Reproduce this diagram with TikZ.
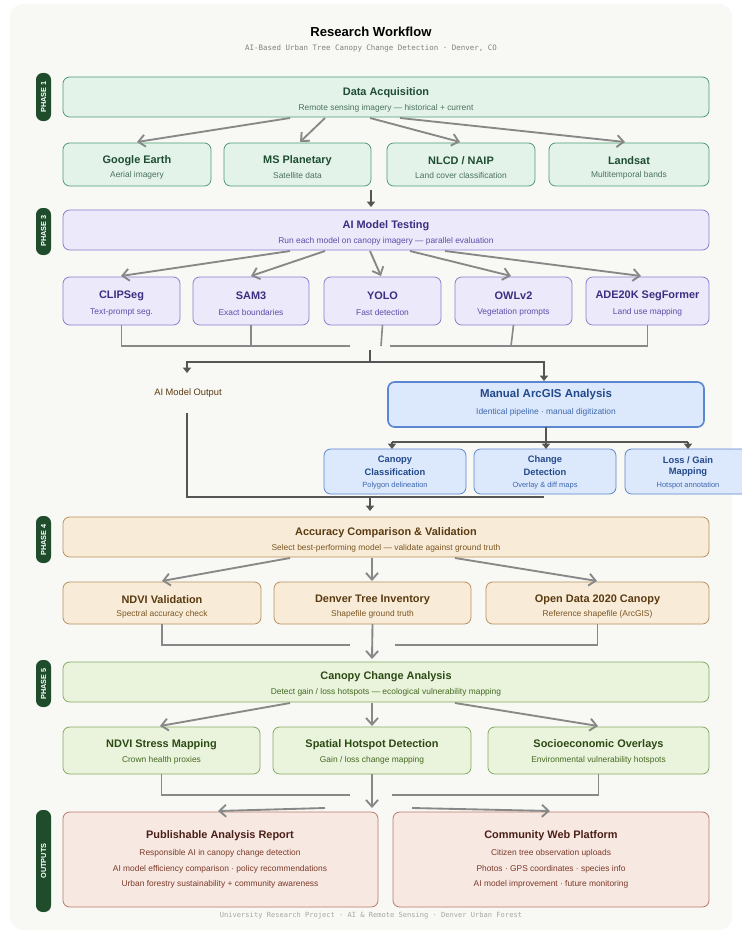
\documentclass[tikz,border=0pt]{standalone}
\usepackage{fontspec}
\setmainfont{Liberation Sans}
\setmonofont{DejaVu Sans Mono}
\usetikzlibrary{arrows.meta}
\definecolor{bg}{HTML}{F8F8F4}
\definecolor{pill}{HTML}{1F4D2C}
\definecolor{gF}{HTML}{E3F3EA}\definecolor{gD}{HTML}{4E9A74}\definecolor{gT}{HTML}{1E4D32}
\definecolor{pF}{HTML}{ECE9FB}\definecolor{pD}{HTML}{8A7CCB}\definecolor{pT}{HTML}{3A2F80}\definecolor{pS}{HTML}{5A4EA8}
\definecolor{bF}{HTML}{DCE8FB}\definecolor{bD}{HTML}{5B86D0}\definecolor{bT}{HTML}{234A8A}\definecolor{bS}{HTML}{3D68B0}
\definecolor{oF}{HTML}{F8ECD9}\definecolor{oD}{HTML}{B8905E}\definecolor{oT}{HTML}{5A3A10}\definecolor{oS}{HTML}{7A5520}
\definecolor{lF}{HTML}{EAF3DC}\definecolor{lD}{HTML}{84AA64}\definecolor{lT}{HTML}{2C4A14}\definecolor{lS}{HTML}{446A22}
\definecolor{rF}{HTML}{F8E8E2}\definecolor{rD}{HTML}{B87A6A}\definecolor{rT}{HTML}{4A2018}\definecolor{rS}{HTML}{7A3A28}
\definecolor{arr}{HTML}{888888}\definecolor{dk}{HTML}{555555}
\tikzset{
 bx/.style={draw, rounded corners=5pt, line width=0.6pt},
 ttl/.style={font=\bfseries\fontsize{8.2}{10}\selectfont},
 sub/.style={font=\fontsize{6.3}{7.5}\selectfont},
 ga/.style={draw=arr, line width=1.4pt, -{Straight Barb[length=5pt,width=9pt]}},
 gl/.style={draw=arr, line width=1.2pt},
 da/.style={draw=dk, line width=1.3pt, -{Triangle[length=4pt,width=6pt]}},
 dl/.style={draw=dk, line width=1.3pt},
 pil/.style={fill=pill, rounded corners=5pt},
 pt/.style={text=white, font=\bfseries\fontsize{5.5}{6}\selectfont, rotate=90},
}
\newcommand{\bxn}[7]{%
 \path[bx, fill=#6, draw=#7] (#2,#3) rectangle (#4,#5);
 \coordinate (#1) at ({(#2+#4)/2},{(#3+#5)/2});
 \coordinate (#1t) at ({(#2+#4)/2},#3);
 \coordinate (#1b) at ({(#2+#4)/2},#5);}
\begin{document}
\begin{tikzpicture}[x=0.75pt,y=-0.75pt]
\useasboundingbox (0,0) rectangle (742,949);
\fill[white] (0,0) rectangle (742,949);
\fill[bg, rounded corners=10pt] (10,4) rectangle (732,930);
\node[ttl, font=\bfseries\fontsize{9.8}{12}\selectfont] (title) at (371,32) {Research Workflow};
\node[font=\ttfamily\fontsize{5.6}{7}\selectfont, text=gray] (subt) at (371,48) {AI-Based Urban Tree Canopy Change Detection · Denver, CO};
% pills
\fill[pil] (36,73) rectangle (51,121); \node[pt] (p1) at (43.5,97) {PHASE 1};
\fill[pil] (36,208) rectangle (51,255); \node[pt] (p3) at (43.5,231) {PHASE 3};
\fill[pil] (36,516) rectangle (51,563); \node[pt] (p4) at (43.5,540) {PHASE 4};
\fill[pil] (36,660) rectangle (51,707); \node[pt] (p5) at (43.5,684) {PHASE 5};
\fill[pil] (36,810) rectangle (51,912); \node[pt] (po) at (43.5,861) {OUTPUTS};
% Phase 1
\bxn{da}{63}{77}{709}{117}{gF}{gD}
\node[ttl,text=gT] (daT) at (386,93) {Data Acquisition};
\node[sub,text=gT!80!white] (daS) at (386,108) {Remote sensing imagery — historical + current};
\foreach \n/\a/\b/\t/\s in {ge/63/211/{Google Earth}/{Aerial imagery}, ms/224/371/{MS Planetary}/{Satellite data}, nl/387/535/{NLCD / NAIP}/{Land cover classification}, ls/549/709/{Landsat}/{Multitemporal bands}}{
 \bxn{\n}{\a}{143}{\b}{186}{gF}{gD}
 \node[ttl,text=gT] (\n T) at ({(\a+\b)/2},161) {\t};
 \node[sub,text=gT!80!white] (\n S) at ({(\a+\b)/2},175) {\s};}
\coordinate (d1) at (290,118);\coordinate (d2) at (325,118);\coordinate (d3) at (370,118);\coordinate (d4) at (400,118);
\draw[ga] (d1) -- (137,142); \draw[ga] (d2) -- (300,142); \draw[ga] (d3) -- (460,142); \draw[ga] (d4) -- (625,142);
\coordinate (v1) at (371,190); \coordinate (v2) at (371,207);
\draw[da] (v1) -- (v2);
% Phase 3
\bxn{ai}{63}{210}{709}{250}{pF}{pD}
\node[ttl,text=pT] (aiT) at (386,226) {AI Model Testing};
\node[sub,text=pS] (aiS) at (386,241) {Run each model on canopy imagery — parallel evaluation};
\foreach \n/\a/\b/\t/\s in {m1/63/180/CLIPSeg/{Text-prompt seg.}, m2/193/309/SAM3/{Exact boundaries}, m3/324/441/YOLO/{Fast detection}, m4/455/572/OWLv2/{Vegetation prompts}, m5/586/709/{ADE20K SegFormer}/{Land use mapping}}{
 \bxn{\n}{\a}{277}{\b}{325}{pF}{pD}
 \node[ttl,text=pT] (\n T) at ({(\a+\b)/2},296) {\t};
 \node[sub,text=pS] (\n S) at ({(\a+\b)/2},312) {\s};}
\coordinate (a1) at (290,251);\coordinate (a2) at (325,251);\coordinate (a3) at (370,251);\coordinate (a4) at (410,251);\coordinate (a5) at (445,251);
\draw[ga] (a1) -- (121,276); \draw[ga] (a2) -- (251,276); \draw[ga] (a3) -- (381,276); \draw[ga] (a4) -- (511,276); \draw[ga] (a5) -- (641,276);
\draw[gl] (m1b) |- (350,346); \draw[gl] (m2b) -- (251,346);
\draw[gl] (m5b) |- (390,346); \draw[gl] (m4b) -- (511,346); \draw[gl] (m3b) -- (381,346);
\coordinate (j1) at (370,350);
\draw[dl] (j1) -- (370,362) -| (187,372);
\draw[da] (187,362) -- (187,373);
\draw[da] (370,362) -| (544,381);
\node[font=\fontsize{7}{8}\selectfont, text=oT] (out) at (188,393) {AI Model Output};
% ArcGIS
\bxn{ar}{388}{382}{704}{427}{bF}{bD}
\path[draw=bD, line width=1.2pt, rounded corners=5pt] (388,382) rectangle (704,427);
\node[ttl,text=bT, font=\bfseries\fontsize{8.6}{10}\selectfont] (arT) at (546,395) {Manual ArcGIS Analysis};
\node[sub,text=bS] (arS) at (546,412) {Identical pipeline · manual digitization};
\draw[dl] (arb) -- (546,442);
\draw[dl] (392,442) -- (688,442);
\foreach \x in {392,546,688}{\draw[da] (\x,442) -- (\x,449);}
\foreach \n/\a/\b/\t/\u/\s in {c1/324/466/Canopy/Classification/{Polygon delineation}, c2/474/616/Change/Detection/{Overlay \& diff maps}, c3/625/760/{Loss / Gain}/Mapping/{Hotspot annotation}}{
 \bxn{\n}{\a}{449}{\b}{494}{bF}{bD}
 \node[ttl,text=bT, font=\bfseries\fontsize{7}{8}\selectfont] (\n T) at ({min((\a+\b)/2,688)},460) {\t};
 \node[ttl,text=bT, font=\bfseries\fontsize{7}{8}\selectfont] (\n U) at ({min((\a+\b)/2,688)},472) {\u};
 \node[sub,text=bS, font=\fontsize{5.6}{7}\selectfont] (\n S) at ({min((\a+\b)/2,688)},486) {\s};}
\draw[dl] (187,413) |- (544,497);
\draw[da] (370,497) -- (370,511);
% Phase 4
\bxn{ac}{63}{517}{709}{557}{oF}{oD}
\node[ttl,text=oT] (acT) at (386,533) {Accuracy Comparison \& Validation};
\node[sub,text=oS] (acS) at (386,548) {Select best-performing model — validate against ground truth};
\foreach \n/\a/\b/\t/\s in {v1/63/261/{NDVI Validation}/{Spectral accuracy check}, v2/274/471/{Denver Tree Inventory}/{Shapefile ground truth}, v3/486/709/{Open Data 2020 Canopy}/{Reference shapefile (ArcGIS)}}{
 \bxn{\n}{\a}{582}{\b}{624}{oF}{oD}
 \node[ttl,text=oT] (\n T) at ({(\a+\b)/2},600) {\t};
 \node[sub,text=oS] (\n S) at ({(\a+\b)/2},614) {\s};}
\draw[ga] (290,558) -- (162,581); \draw[ga] (372,558) -- (372,581); \draw[ga] (455,558) -- (597,581);
\draw[gl] (v1b) |- (350,645); \draw[gl] (v3b) |- (395,645);
\draw[ga] (v2b) -- (372,659);
% Phase 5
\bxn{cc}{63}{662}{709}{702}{lF}{lD}
\node[ttl,text=lT] (ccT) at (386,677) {Canopy Change Analysis};
\node[sub,text=lS] (ccS) at (386,692) {Detect gain / loss hotspots — ecological vulnerability mapping};
\foreach \n/\a/\b/\t/\s in {s1/63/260/{NDVI Stress Mapping}/{Crown health proxies}, s2/273/471/{Spatial Hotspot Detection}/{Gain / loss change mapping}, s3/488/709/{Socioeconomic Overlays}/{Environmental vulnerability hotspots}}{
 \bxn{\n}{\a}{727}{\b}{774}{lF}{lD}
 \node[ttl,text=lT] (\n T) at ({(\a+\b)/2},745) {\t};
 \node[sub,text=lS] (\n S) at ({(\a+\b)/2},760) {\s};}
\draw[ga] (290,703) -- (160,726); \draw[ga] (372,703) -- (372,726); \draw[ga] (455,703) -- (598,726);
\draw[gl] (s1b) |- (350,795); \draw[gl] (s3b) |- (392,795);
\draw[ga] (s2b) -- (372,808);
% Outputs
\bxn{o1}{63}{812}{378}{907}{rF}{rD}
\bxn{o2}{393}{812}{709}{907}{rF}{rD}
\draw[ga] (325,808) -- (218,811); \draw[ga] (412,808) -- (550,811);
\node[ttl,text=rT] (o1T) at (220,836) {Publishable Analysis Report};
\node[sub,text=rS] (o1a) at (220,853) {Responsible AI in canopy change detection};
\node[sub,text=rS] (o1b) at (220,869) {AI model efficiency comparison · policy recommendations};
\node[sub,text=rS] (o1c) at (220,884) {Urban forestry sustainability + community awareness};
\node[ttl,text=rT] (o2T) at (551,836) {Community Web Platform};
\node[sub,text=rS] (o2a) at (551,853) {Citizen tree observation uploads};
\node[sub,text=rS] (o2b) at (551,869) {Photos · GPS coordinates · species info};
\node[sub,text=rS] (o2c) at (551,884) {AI model improvement · future monitoring};
\node[font=\ttfamily\fontsize{5.3}{7}\selectfont, text=black!35] (foot) at (371,916) {University Research Project · AI \& Remote Sensing · Denver Urban Forest};
\end{tikzpicture}
\end{document}
